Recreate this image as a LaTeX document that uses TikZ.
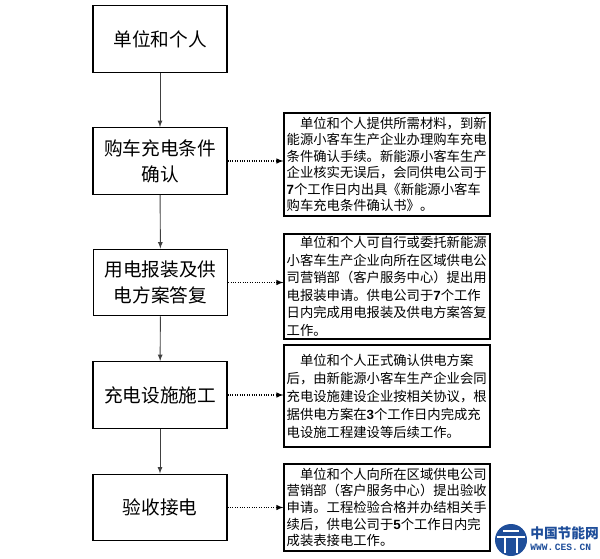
\documentclass[tikz,border=0pt]{standalone}
\usepackage{fontspec}
\newfontfamily\cjk{Noto Sans CJK SC}
\newfontfamily\numfont{Liberation Sans}
\newfontfamily\wmfont{Liberation Mono}
\newcommand{\bnum}[1]{{\numfont\bfseries #1}}
\definecolor{cesblue}{HTML}{1F4E9A}
\tikzset{
  stage/.style={draw, line width=0.9pt, minimum width=100.5pt, minimum height=50pt,
    inner sep=0pt, align=center, font=\cjk\fontsize{14pt}{19.5pt}\selectfont},
  note/.style={draw, line width=0.9pt, text width=150.5pt, inner xsep=2pt, inner ysep=1pt,
    align=left, font=\cjk\fontsize{10pt}{#1}\selectfont},
  note/.default=12.75pt,
  flow/.style={-latex, line width=0.7pt, draw=black!75},
  link/.style={-latex, densely dotted, line width=0.8pt}
}
\begin{document}
\begin{tikzpicture}[x=0.75pt,y=-0.75pt]
\useasboundingbox (0,0) rectangle (600,558);

% Steps on the left
\node[stage] (who) at (160,39) {单位和个人};
\node[stage] (buy) at (160,161) {购车充电条件\\确认};
\node[stage] (apply) at (160.5,282.5) {用电报装及供\\电方案答复};
\node[stage] (build) at (160,395) {充电设施施工};
\node[stage] (accept) at (160,507.5) {验收接电};

% Notes on the right
\node[note=12.3pt, minimum height=77.25pt] (buynote) at (387,164.5) {\hspace*{1em}单位和个人提供所需材料，到新\\
能源小客车生产企业办理购车充电\\
条件确认手续。新能源小客车生产\\
企业核实无误后，会同供电公司于\\
\bnum{7}个工作日内出具《新能源小客车\\
购车充电条件确认书》。};
\node[note=13.1pt, minimum height=78.75pt] (applynote) at (387,286.5) {\hspace*{1em}单位和个人可自行或委托新能源\\
小客车生产企业向所在区域供电公\\
司营销部（客户服务中心）提出用\\
电报装申请。供电公司于\bnum{7}个工作\\
日内完成用电报装及供电方案答复\\
工作。};
\node[note=13.5pt, minimum height=76.5pt] (buildnote) at (387,396) {\hspace*{1em}单位和个人正式确认供电方案\\
后，由新能源小客车生产企业会同\\
充电设施建设企业按相关协议，根\\
据供电方案在\bnum{3}个工作日内完成充\\
电设施工程建设等后续工作。};
\node[note=12.5pt, minimum height=65.25pt] (acceptnote) at (387,507.5) {\hspace*{1em}单位和个人向所在区域供电公司\\
营销部（客户服务中心）提出验收\\
申请。工程检验合格并办结相关手\\
续后，供电公司于\bnum{5}个工作日内完\\
成装表接电工作。};

% Main flow
\draw[flow] (who) -- (buy);
\draw[flow] (buy) -- (apply);
\draw[flow] (apply) -- (build);
\draw[flow] (build) -- (accept);

% Dotted links to the notes
\draw[link] (buy.east) -- (buy.east -| buynote.west);
\draw[link] (apply.east) -- (apply.east -| applynote.west);
\draw[link] (build.east) -- (build.east -| buildnote.west);
\draw[link] (accept.east) -- (accept.east -| acceptnote.west);

% Watermark
\fill[cesblue] (511,540) circle (16);
\draw[white, line width=2pt] (497,537) -- (525,537);
\draw[white, line width=2pt] (505,537) -- (505,553) (517,537) -- (517,553);
\draw[white, line width=1.5pt] (503,531) -- (519,531);
\node[text=cesblue, anchor=west, inner sep=0pt, font=\cjk\bfseries\fontsize{10.3pt}{10.3pt}\selectfont] (cesname) at (530,533) {中国节能网};
\node[text=cesblue, anchor=west, inner sep=0pt, font=\wmfont\bfseries\fontsize{7.2pt}{7.2pt}\selectfont] (cesurl) at (530,547) {WWW.\,CES.\,CN};

\end{tikzpicture}
\end{document}
